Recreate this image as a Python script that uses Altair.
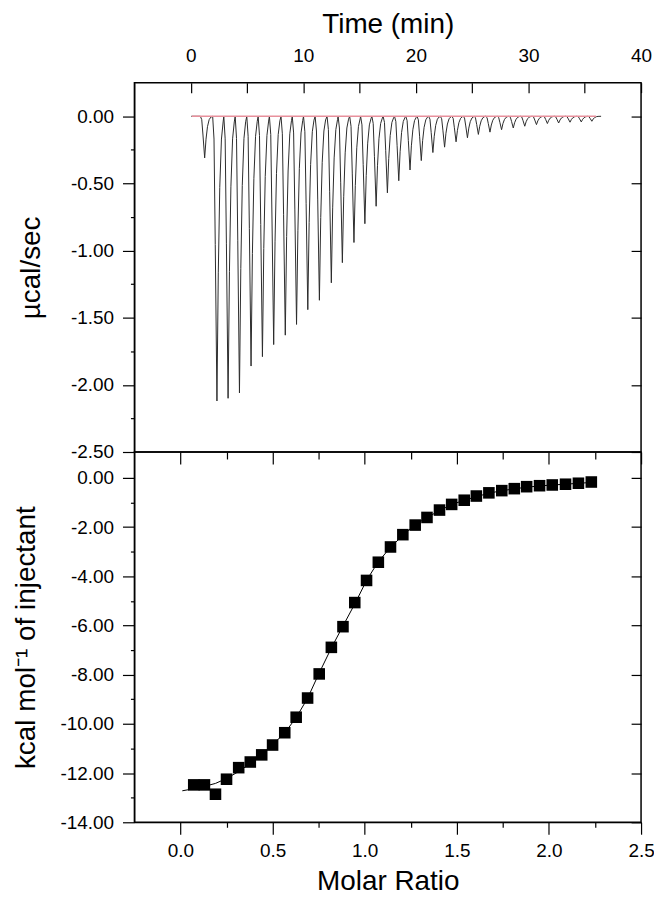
import altair as alt
import pandas as pd

# ---------------- top panel: raw thermogram ----------------
peak_time = [1.24, 2.33, 3.32, 4.33, 5.36, 6.37, 7.37, 8.40, 9.40, 10.40,
             11.43, 12.49, 13.47, 14.50, 15.47, 16.47, 17.47, 18.48, 19.48, 20.48,
             21.51, 22.55, 23.57, 24.58, 25.55, 26.58, 27.61, 28.65, 29.67, 30.71,
             31.68, 32.68, 33.69, 34.69, 35.63]
peak_depth = [-0.31, -2.12, -2.10, -2.06, -1.86, -1.79, -1.70, -1.63, -1.55, -1.44,
              -1.37, -1.24, -1.09, -0.94, -0.80, -0.67, -0.57, -0.48, -0.40, -0.33,
              -0.27, -0.23, -0.19, -0.16, -0.135, -0.118, -0.10, -0.087, -0.074, -0.062,
              -0.054, -0.050, -0.044, -0.042, -0.037]
# peak profile: time offset from the minimum (min) and fraction of depth
shape_offset = [-0.38, -0.26, -0.15, 0.0, 0.12, 0.25, 0.40, 0.55]
shape_frac = [0.0, 0.08, 0.45, 1.0, 0.55, 0.25, 0.08, 0.02]
trace_start = 0.05
trace_end = 36.45
baseline_time = [0.1, 36.0]
baseline_value = [0.0, 0.0]

# ---------------- bottom panel: integrated heats ----------------
molar_ratio = [0.072, 0.13, 0.19, 0.25, 0.316, 0.379, 0.441, 0.50, 0.566, 0.628,
               0.69, 0.753, 0.819, 0.882, 0.946, 1.01, 1.074, 1.14, 1.207, 1.274,
               1.338, 1.406, 1.472, 1.54, 1.606, 1.674, 1.744, 1.812, 1.879, 1.949,
               2.018, 2.09, 2.16, 2.23]
heat = [-12.48, -12.48, -12.86, -12.25, -11.78, -11.55, -11.26, -10.86, -10.36, -9.73,
        -8.95, -7.97, -6.89, -6.05, -5.07, -4.17, -3.43, -2.81, -2.31, -1.92,
        -1.61, -1.31, -1.08, -0.91, -0.74, -0.61, -0.52, -0.44, -0.36, -0.32,
        -0.29, -0.26, -0.22, -0.17]
fit_ratio = [0.01, 0.10, 0.19, 0.25, 0.32, 0.38, 0.44, 0.50, 0.57, 0.63,
             0.69, 0.75, 0.82, 0.88, 0.95, 1.01, 1.07, 1.14, 1.21, 1.27,
             1.34, 1.41, 1.47, 1.54, 1.61, 1.67, 1.74, 1.81, 1.88, 1.95,
             2.02, 2.09, 2.16, 2.23]
fit_heat = [-12.72, -12.60, -12.42, -12.22, -11.92, -11.60, -11.25, -10.85, -10.33, -9.72,
            -8.96, -7.98, -6.90, -6.05, -5.07, -4.17, -3.45, -2.82, -2.32, -1.92,
            -1.60, -1.32, -1.09, -0.91, -0.76, -0.63, -0.53, -0.45, -0.38, -0.33,
            -0.29, -0.26, -0.22, -0.19]

# ---------------- tick values ----------------
time_ticks = [0, 5, 10, 15, 20, 25, 30, 35, 40]
power_ticks = [-2.5, -2.25, -2.0, -1.75, -1.5, -1.25, -1.0, -0.75, -0.5, -0.25, 0.0]
power_major = [-2.5, -2.0, -1.5, -1.0, -0.5, 0.0]
ratio_ticks = [0.0, 0.25, 0.5, 0.75, 1.0, 1.25, 1.5, 1.75, 2.0, 2.25, 2.5]
ratio_major = [0.0, 0.5, 1.0, 1.5, 2.0, 2.5]
ratio_minor = [0.25, 0.75, 1.25, 1.75, 2.25]
heat_ticks = [-14, -13, -12, -11, -10, -9, -8, -7, -6, -5, -4, -3, -2, -1, 0]
heat_major = [-14, -12, -10, -8, -6, -4, -2, 0]

FONT = "Liberation Sans"
LBL = 19
TTL = 28
W = 509
H1 = 371
H2 = 372

# build thermogram line
rows = [{"t": trace_start, "v": 0.0}]
for t, d in zip(peak_time, peak_depth):
    for o, f in zip(shape_offset, shape_frac):
        rows.append({"t": round(t + o, 3), "v": d * f})
rows.append({"t": trace_end, "v": 0.0})
trace = pd.DataFrame(rows)
trace["o"] = range(len(trace))
base = pd.DataFrame({"t": baseline_time, "v": baseline_value})

xs_top = alt.Scale(domain=[-5, 40], nice=False, zero=False)
ys_top = alt.Scale(domain=[-2.5, 0.25], nice=False, zero=False)

neg_fmt2 = "(datum.value < 0 ? '-' : '') + format(abs(datum.value), '.2f')"

trace_layer = alt.Chart(trace).mark_line(color="#2b2b2b", strokeWidth=1).encode(
    x=alt.X("t:Q", scale=xs_top, axis=alt.Axis(
        orient="top", title="Time (min)", values=time_ticks,
        labelExpr="datum.value % 10 == 0 ? datum.label : ''",
        offset=-10, tickSize=10, domain=False, labelPadding=17, titlePadding=8,
        labelFlush=False, labelOverlap=False)),
    y=alt.Y("v:Q", scale=ys_top, axis=alt.Axis(
        orient="left", title="µcal/sec", values=power_ticks,
        labelExpr="round(datum.value*100) % 50 == 0 ? " + neg_fmt2 + " : ''",
        tickSize={"condition": {"test": "round(datum.value*100) % 50 == 0", "value": 12}, "value": 4},
        labelPadding=9, titlePadding=25, labelOverlap=False)),
    order="o:Q",
)
base_layer = alt.Chart(base).mark_line(color="#e8909c", strokeWidth=1.5).encode(
    x=alt.X("t:Q", scale=xs_top, axis=None),
    y=alt.Y("v:Q", scale=ys_top, axis=alt.Axis(
        orient="right", title=None, labels=False, domain=False, values=power_major,
        offset=-10, tickSize=10)),
)
top = alt.layer(trace_layer, base_layer).resolve_axis(x="independent", y="independent").properties(
    width=W, height=H1)

# ---------------- bottom ----------------
pts = pd.DataFrame({"r": molar_ratio, "h": heat})
fit = pd.DataFrame({"r": fit_ratio, "h": fit_heat})
xs_b = alt.Scale(domain=[-0.25, 2.5], nice=False, zero=False)
ys_b = alt.Scale(domain=[-14, 1.05], nice=False, zero=False)

sq_layer = alt.Chart(pts).mark_square(color="black", size=135, opacity=1).encode(
    x=alt.X("r:Q", scale=xs_b, axis=alt.Axis(
        orient="bottom", title="Molar Ratio", values=ratio_ticks,
        labelExpr="round(datum.value*100) % 50 == 0 ? format(datum.value, '.1f') : ''",
        tickSize={"condition": {"test": "round(datum.value*100) % 50 == 0", "value": 12}, "value": 5},
        labelPadding=7, titlePadding=8, labelFlush=False, labelOverlap=False)),
    y=alt.Y("h:Q", scale=ys_b, axis=alt.Axis(
        orient="left", title="kcal mol⁻¹ of injectant", values=heat_ticks,
        labelExpr="datum.value % 2 == 0 ? " + neg_fmt2 + " : ''",
        tickSize={"condition": {"test": "datum.value % 2 == 0", "value": 12}, "value": 4},
        labelPadding=9, titlePadding=20, labelOverlap=False)),
)
fit_layer = alt.Chart(fit).mark_line(color="black", strokeWidth=1).encode(
    x=alt.X("r:Q", scale=xs_b, axis=alt.Axis(
        orient="top", title=None, labels=False, domain=False, values=ratio_major,
        offset=-12, tickSize=12)),
    y=alt.Y("h:Q", scale=ys_b, axis=alt.Axis(
        orient="right", title=None, labels=False, domain=False, values=heat_major,
        offset=-10, tickSize=10)),
)
fit_ticks_layer = alt.Chart(fit).mark_line(strokeOpacity=0).encode(
    x=alt.X("r:Q", scale=xs_b, axis=alt.Axis(
        orient="top", title=None, labels=False, domain=False, values=ratio_minor,
        offset=-7, tickSize=7)),
    y=alt.Y("h:Q", scale=ys_b, axis=None),
)
bottom = alt.layer(fit_layer, fit_ticks_layer, sq_layer).resolve_axis(
    x="independent", y="independent").properties(width=W, height=H2)

chart = alt.vconcat(top, bottom, spacing=0, bounds="flush").properties(
    padding={"left": 3, "top": 0, "right": -1, "bottom": -3}
).configure_view(stroke="black", strokeWidth=1.5).configure_axis(
    labelFont=FONT, titleFont=FONT, labelFontSize=LBL, titleFontSize=TTL,
    titleFontWeight="normal", labelColor="black", titleColor="black",
    tickColor="black", domainColor="black", tickWidth=1.2, grid=False,
)

chart.save("out.html", embed_options={"renderer": "svg", "actions": False})
